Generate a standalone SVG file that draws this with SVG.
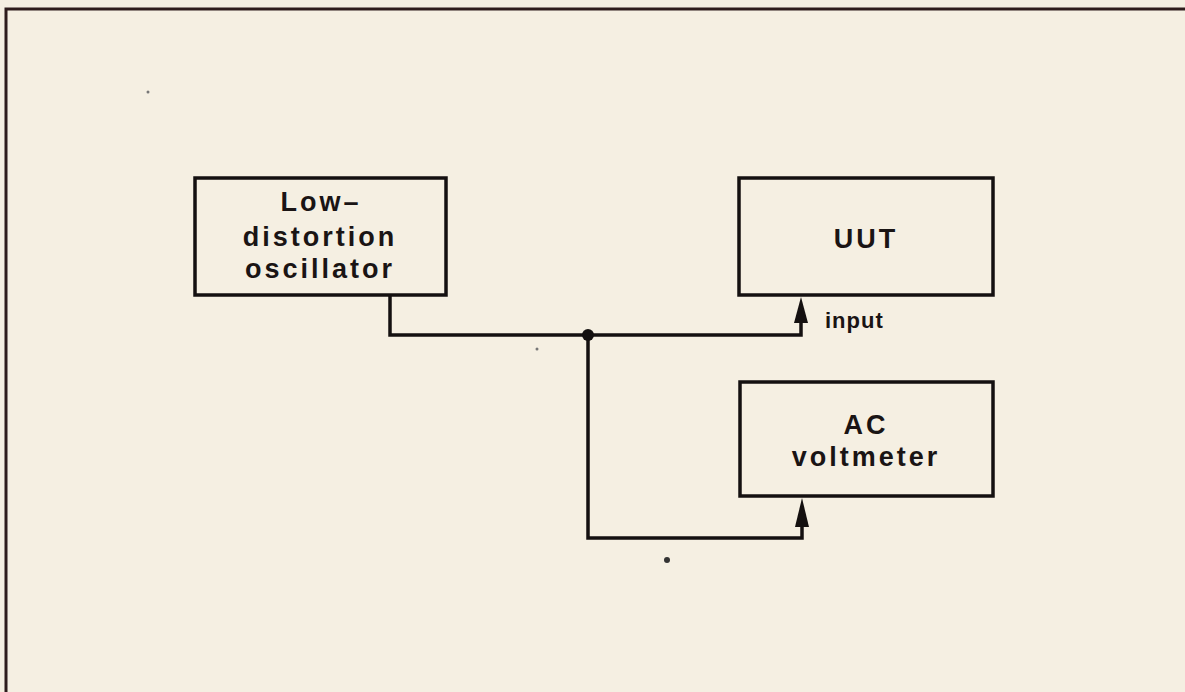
<svg xmlns="http://www.w3.org/2000/svg" width="1185" height="692" viewBox="0 0 1185 692">
<style>
.box{fill:none;stroke:#141010;stroke-width:3.5}
.wire{fill:none;stroke:#141010;stroke-width:3.5;stroke-linejoin:miter}
.lbl{font-family:"Liberation Sans",Arial,sans-serif;font-weight:bold;font-size:27px;fill:#1a1414;text-anchor:middle;letter-spacing:3px}
.small{font-family:"Liberation Sans",Arial,sans-serif;font-weight:bold;font-size:22px;fill:#1a1414;letter-spacing:1px}
</style>
<rect width="1185" height="692" fill="#f5efe2"/>
<path d="M6,692 L6,9 L1185,9" fill="none" stroke="#2e1c1c" stroke-width="3"/>
<g id="oscillator">
<rect class="box" x="195" y="178" width="251" height="117"/>
<text class="lbl" x="321" y="211">Low–</text>
<text class="lbl" x="320" y="246">distortion</text>
<text class="lbl" x="320" y="278">oscillator</text>
</g>
<g id="uut">
<rect class="box" x="739" y="178" width="254" height="117"/>
<text class="lbl" x="866" y="248">UUT</text>
</g>
<g id="voltmeter">
<rect class="box" x="740" y="382" width="253" height="114"/>
<text class="lbl" x="866" y="434">AC</text>
<text class="lbl" x="866" y="466">voltmeter</text>
</g>
<g id="connectors">
<path class="wire" d="M390,295 L390,335 L801,335 L801,320"/>
<path d="M794,323 L801,297 L808,323 Z" fill="#141010"/>
<path class="wire" d="M588,335 L588,538 L802,538 L802,524"/>
<path d="M795,527 L802,498 L809,527 Z" fill="#141010"/>
<circle cx="588" cy="335" r="6" fill="#141010"/>
<text class="small" x="825" y="328">input</text>
</g>
<circle cx="667" cy="560" r="3" fill="#333"/>
<circle cx="148" cy="92" r="1.5" fill="#777"/>
<circle cx="537" cy="349" r="1.5" fill="#777"/>
</svg>
